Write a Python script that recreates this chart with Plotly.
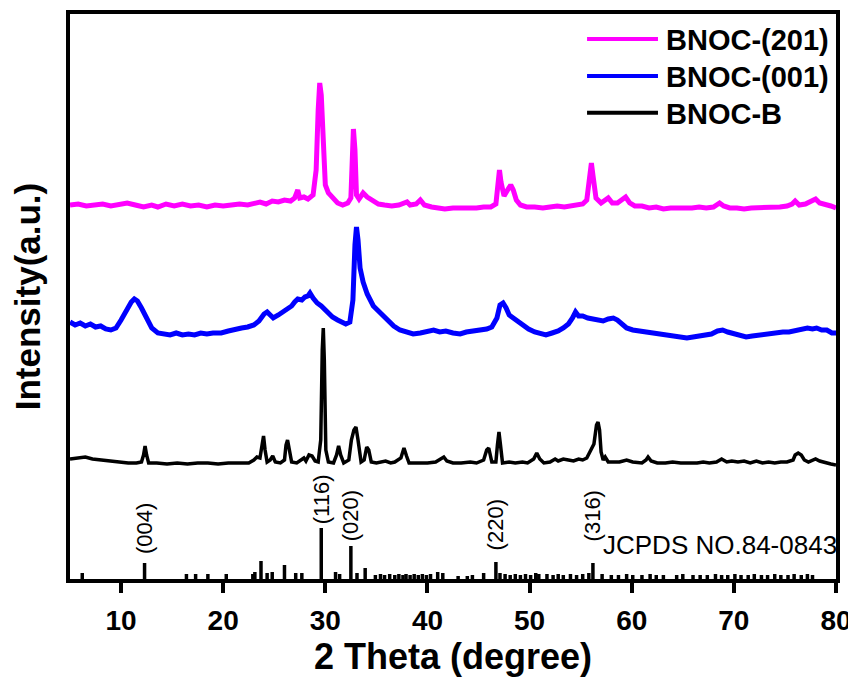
import plotly.graph_objects as go

# ---------------- data ----------------
# BNOC-(201)  (magenta) : 2-theta and intensity (a.u., relative to its own baseline)
tt_201 = [5.0, 5.8, 6.6, 7.4, 8.2, 9.0, 9.8, 10.6, 11.4, 12.2, 13.0, 13.6, 14.4, 15.2, 16.0, 16.8,
          17.6, 18.4, 19.2, 20.0, 20.8, 21.6, 22.4, 23.0, 23.6, 24.2, 24.8, 25.4, 26.0, 26.6, 27.0,
          27.3, 27.5, 27.9, 28.3, 28.8, 29.1, 29.3, 29.45, 29.6, 29.8, 30.0, 30.3, 30.7, 31.2, 31.7,
          32.2, 32.5, 32.65, 32.75, 32.9, 33.05, 33.3, 33.7, 34.1, 34.6, 35.2, 35.8, 36.5, 37.2, 37.7,
          38.0, 38.3, 38.9, 39.3, 39.7, 40.4, 41.0, 41.7, 42.5, 43.3, 44.0, 44.8, 45.5, 46.2, 46.7,
          46.9, 47.05, 47.2, 47.5, 47.9, 48.15, 48.4, 48.7, 49.1, 49.7, 50.5, 51.3, 52.0, 52.7, 53.4,
          54.0, 54.6, 55.2, 55.6, 55.9, 56.05, 56.2, 56.5, 57.0, 57.4, 57.7, 58.1, 58.6, 59.0, 59.4,
          59.8, 60.3, 61.0, 61.7, 62.4, 63.1, 63.8, 64.5, 65.2, 65.9, 66.6, 67.3, 68.0, 68.6, 69.0,
          69.6, 70.3, 71.0, 71.7, 72.4, 73.1, 73.8, 74.5, 75.2, 75.7, 76.0, 76.4, 77.0, 77.5, 78.0,
          78.4, 79.0, 79.5, 80.0]
int_201 = [2, 3, 1, 2, 3, 1, 3, 4, 2, 0, 2, 0, 3, 1, 3, 1,
           2, 0, 2, 1, 2, 3, 2, 4, 5, 3, 6, 5, 7, 6, 9,
           17, 9, 10, 8, 12, 37, 97, 124, 112, 57, 22, 14, 9, 4, 2,
           4, 9, 57, 78, 57, 12, 8, 14, 10, 7, 3, 2, 1, 2, 4,
           5, 2, 3, 7, 2, 0, -1, -2, -1, -1, -2, -1, 0, 0, 3,
           27, 37, 25, 11, 18, 22, 17, 7, 2, 0, 0, -1, 0, 1, 0,
           1, 2, 3, 7, 32, 44, 32, 9, 4, 7, 9, 4, 4, 7, 10,
           4, 1, 1, -1, 0, -2, -1, -1, -2, -1, 0, -1, 0, 4, 1,
           -1, -1, -2, -1, -1, 0, 0, 0, 1, 3, 6, 2, 3, 5, 8,
           4, 3, 1, -1]

# BNOC-(001)  (blue)
tt_001 = [5.0, 5.5, 6.0, 6.5, 7.0, 7.5, 8.0, 8.5, 9.0, 9.5, 10.0, 10.5, 11.0, 11.3, 11.6, 12.0,
          12.5, 13.0, 13.6, 14.2, 14.8, 15.4, 16.0, 16.6, 17.2, 17.8, 18.4, 19.0, 19.8, 20.5, 21.2,
          21.8, 22.4, 23.0, 23.5, 24.0, 24.3, 24.6, 24.9, 25.4, 25.9, 26.3, 26.7, 27.0, 27.3, 27.7,
          28.0, 28.3, 28.5, 28.8, 29.2, 29.6, 30.2, 30.7, 31.2, 31.6, 32.0, 32.4, 32.7, 32.9, 33.05,
          33.2, 33.4, 33.7, 34.1, 34.7, 35.3, 36.1, 36.7, 37.3, 38.0, 38.6, 39.3, 40.0, 40.6, 41.2,
          41.8, 42.5, 43.2, 43.8, 44.5, 45.2, 45.8, 46.3, 46.8, 47.1, 47.4, 47.7, 48.0, 48.4, 48.9,
          49.4, 49.9, 50.5, 51.1, 51.6, 52.2, 52.8, 53.3, 53.8, 54.2, 54.5, 54.8, 55.2, 55.7, 56.2,
          56.7, 57.2, 57.7, 58.2, 58.6, 59.0, 59.5, 60.1, 60.8, 61.4, 62.1, 62.8, 63.5, 64.2, 64.8,
          65.4, 66.0, 66.6, 67.2, 67.8, 68.4, 68.9, 69.4, 70.0, 70.6, 71.2, 71.8, 72.4, 73.0, 73.6,
          74.2, 74.8, 75.4, 76.0, 76.6, 77.2, 77.7, 78.1, 78.6, 79.1, 79.6, 80.0]
int_001 = [11, 8, 10, 7, 9, 6, 7, 4, 3, 5, 13, 23, 31, 34, 32, 25,
           15, 5, 0, -1, -2, 0, -2, -1, -2, 0, -1, 0, 0, 2, 3,
           5, 6, 8, 12, 19, 21, 17, 15, 18, 21, 24, 27, 31, 34, 33,
           36, 37, 40, 35, 30, 27, 21, 16, 13, 11, 9, 11, 33, 88, 106,
           93, 65, 51, 39, 27, 21, 13, 7, 3, 1, -1, 0, 2, 3, 1,
           2, 0, -1, 1, 2, 3, 4, 6, 15, 28, 30, 25, 18, 15, 11,
           7, 4, 1, -1, -2, 0, 2, 5, 9, 15, 21, 17, 17, 15, 14,
           13, 12, 14, 15, 13, 9, 5, 3, 2, 1, 0, -1, -2, -3, -4,
           -5, -4, -3, -2, -1, 2, 3, 1, -1, -2, -4, -3, -2, -1, 0,
           0, 1, 1, 2, 3, 5, 4, 5, 3, 3, 0, 0]

# BNOC-B  (black)
tt_b = [5.0, 6.0, 6.5, 7.2, 8.0, 9.0, 10.0, 10.7, 11.5, 12.0, 12.2, 12.35, 12.5, 12.7, 13.5, 14.5,
        15.5, 16.5, 17.5, 18.5, 19.5, 20.5, 21.5, 22.5, 23.0, 23.3, 23.6, 23.8, 23.95, 24.1, 24.3,
        24.6, 24.85, 25.1, 25.6, 26.0, 26.15, 26.3, 26.45, 26.7, 27.2, 27.7, 27.9, 28.1, 28.4, 28.7,
        29.0, 29.3, 29.55, 29.7, 29.8, 29.9, 30.05, 30.3, 30.8, 31.1, 31.3, 31.5, 31.8, 32.3, 32.55,
        32.8, 33.0, 33.2, 33.5, 33.8, 34.05, 34.25, 34.5, 35.0, 35.4, 35.9, 36.4, 36.8, 37.4, 37.7,
        37.95, 38.2, 39.0, 40.0, 40.8, 41.3, 41.6, 41.9, 42.5, 43.3, 44.2, 44.8, 45.5, 45.8, 46.0,
        46.3, 46.7, 46.85, 47.0, 47.15, 47.35, 48.0, 48.6, 49.3, 49.8, 50.4, 50.7, 51.0, 51.4, 52.0,
        52.5, 52.8, 53.3, 53.8, 54.3, 54.8, 55.2, 55.6, 56.0, 56.3, 56.55, 56.7, 56.85, 57.0, 57.2,
        57.4, 57.7, 58.2, 58.8, 59.5, 60.1, 61.0, 61.4, 61.6, 61.9, 62.5, 63.3, 64.0, 64.8, 65.6,
        66.4, 67.0, 67.6, 68.3, 68.8, 69.3, 69.8, 70.4, 71.0, 71.6, 72.2, 72.8, 73.4, 74.0, 74.6,
        75.2, 75.8, 76.0, 76.3, 76.6, 76.9, 77.3, 77.7, 78.0, 78.4, 79.0, 79.5, 80.0]
int_b = [3, 4, 5, 3, 2, 1, 0, -1, -1, 0, 7, 16, 7, -1, -1, -2,
         -1, -2, -1, -1, -2, -1, -1, -1, 2, 5, 4, 17, 26, 12, 0,
         2, 6, 0, -1, 2, 17, 22, 12, 0, -1, 2, 4, 1, 7, 6,
         1, 0, 22, 112, 134, 102, 12, 0, -1, 7, 16, 7, -1, 2, 22,
         32, 35, 22, 0, 2, 15, 12, 0, -1, 0, 1, -1, 0, 4, 14,
         6, -1, -1, -1, 0, 3, 5, 1, -1, -1, 0, -1, 2, 12, 14,
         0, 0, 17, 30, 17, -1, 0, -1, 0, -1, 3, 9, 3, -1, 0,
         3, 1, 3, 2, 1, 3, 2, 4, 12, 18, 37, 40, 32, 10, 2,
         5, 0, 0, 0, 2, 0, -1, 2, 5, 1, -1, -1, 0, -1, -1,
         -1, 0, -1, 0, 3, 0, 1, 0, 1, -1, 1, -1, 0, -1, 0,
         0, 2, 7, 9, 7, 2, 0, 2, 3, 1, -1, -2, -3]

# JCPDS NO.84-0843 reference pattern (positions and relative heights)
ref_tt = [6.2, 12.3, 16.4, 17.3, 18.5, 20.3, 22.9, 23.1, 23.7, 24.3, 24.8, 26.0, 27.1, 27.7,
          29.6, 31.0, 31.4, 32.5, 33.1, 33.9, 34.9, 35.4, 35.8, 36.3, 36.8, 37.2, 37.6, 37.9,
          38.3, 38.7, 39.1, 39.5, 39.9, 40.3, 41.0, 41.5, 43.0, 43.9, 44.4, 45.5, 46.7, 47.1,
          47.6, 48.1, 48.6, 49.1, 49.6, 50.1, 50.6, 50.9, 51.7, 52.3, 52.8, 53.3, 54.0, 54.6,
          55.2, 55.8, 56.2, 57.1, 58.0, 58.7, 59.5, 60.1, 61.0, 61.8, 62.4, 63.1, 64.4, 65.0,
          66.0, 66.7, 67.4, 68.2, 68.8, 69.4, 70.1, 70.7, 71.4, 72.0, 72.7, 73.3, 74.0, 74.6,
          75.3, 75.9, 76.6, 77.2, 77.7]
ref_h = [6, 16, 5, 5, 5, 5, 5, 7, 18, 6, 7, 14, 6, 6,
         51, 7, 5, 33, 6, 11, 4, 5, 4, 5, 4, 5, 4, 5,
         4, 5, 4, 5, 4, 5, 7, 6, 3, 3, 4, 6, 17, 6,
         5, 4, 5, 4, 5, 4, 6, 5, 5, 4, 5, 4, 5, 4,
         5, 6, 16, 5, 4, 4, 5, 4, 4, 5, 4, 4, 4, 5,
         4, 4, 4, 5, 4, 4, 5, 4, 4, 5, 4, 4, 5, 4,
         4, 5, 4, 5, 4]

hkl_labels = ["(004)", "(116)", "(020)", "(220)", "(316)"]
hkl_tt = [12.3, 29.6, 32.5, 46.7, 56.2]

series_names = ["BNOC-(201)", "BNOC-(001)", "BNOC-B"]
x_ticks = [10, 20, 30, 40, 50, 60, 70, 80]

# ---------------- style / layout ----------------
offsets = [372, 246, 117]          # vertical stacking of the patterns
colors = ["#FF00FF", "#0000FF", "#000000"]
widths = [5, 5, 3.5]
hkl_shift = [7, 2, 3, 10, 20]      # label gap above each stick (px)
FONT = "Liberation Sans, Arial, sans-serif"

fig = go.Figure()
for name, xs, ys, off, col, w in zip(series_names, [tt_201, tt_001, tt_b],
                                     [int_201, int_001, int_b], offsets, colors, widths):
    fig.add_trace(go.Scatter(x=xs, y=[v + off for v in ys], mode="lines", name=name,
                             line=dict(color=col, width=w), showlegend=False))

stick_x, stick_y = [], []
for t, h in zip(ref_tt, ref_h):
    stick_x += [t, t, None]
    stick_y += [0, h, None]
fig.add_trace(go.Scatter(x=stick_x, y=stick_y, mode="lines", showlegend=False,
                         line=dict(color="black", width=3.5), hoverinfo="skip"))

annotations = []
for lab, t, s in zip(hkl_labels, hkl_tt, hkl_shift):
    h = ref_h[ref_tt.index(t)]
    annotations.append(dict(x=t, y=h, xref="x", yref="y", text=lab, showarrow=False,
                            textangle=-90, xanchor="center", yanchor="bottom", yshift=s,
                            font=dict(family=FONT, size=22, color="black")))
annotations.append(dict(x=80, y=34, xref="x", yref="y", text="JCPDS NO.84-0843", showarrow=False,
                        xanchor="right", yanchor="middle", xshift=3,
                        font=dict(family=FONT, size=26, color="black")))

# legend (long line samples like the reference)
shapes = []
leg_y = [0.9558, 0.8903, 0.8253]
for name, col, yy in zip(series_names, colors, leg_y):
    shapes.append(dict(type="line", xref="paper", yref="paper", x0=0.675, x1=0.7676,
                       y0=yy, y1=yy, line=dict(color=col, width=4)))
    annotations.append(dict(x=0.7755, y=yy, xref="paper", yref="paper", text=name,
                            showarrow=False, xanchor="left", yanchor="middle", yshift=-1,
                            font=dict(family=FONT, size=29, color="black", weight="bold")))

# the page body adds an 8 px margin, so the figure is sized/margined to land on
# the same pixels as the reference frame (70..836 x 14..579)
fig.update_layout(
    width=848, height=670,
    margin=dict(l=62, r=20, t=6, b=99),
    paper_bgcolor="white", plot_bgcolor="white",
    font=dict(family=FONT, color="black"),
    annotations=annotations, shapes=shapes,
    showlegend=False,
    xaxis=dict(range=[5, 80], tickvals=x_ticks, ticks="outside", ticklen=10, tickwidth=3.5,
               tickcolor="black", showline=True, linewidth=3.5, linecolor="black", mirror=True,
               showgrid=False, zeroline=False, automargin=False, ticklabelstandoff=4,
               tickfont=dict(family=FONT, size=28, color="black", weight="bold"),
               title=dict(text="2 Theta (degree)", standoff=6,
                          font=dict(family=FONT, size=36, color="black", weight="bold"))),
    yaxis=dict(range=[0, 565], showticklabels=False, ticks="", showline=True, linewidth=3.5,
               linecolor="black", mirror=True, showgrid=False, zeroline=False, automargin=False,
               title=dict(text="Intensity(a.u.)", standoff=17,
                          font=dict(family=FONT, size=35, color="black", weight="bold"))),
)

fig.write_html("out.html")
